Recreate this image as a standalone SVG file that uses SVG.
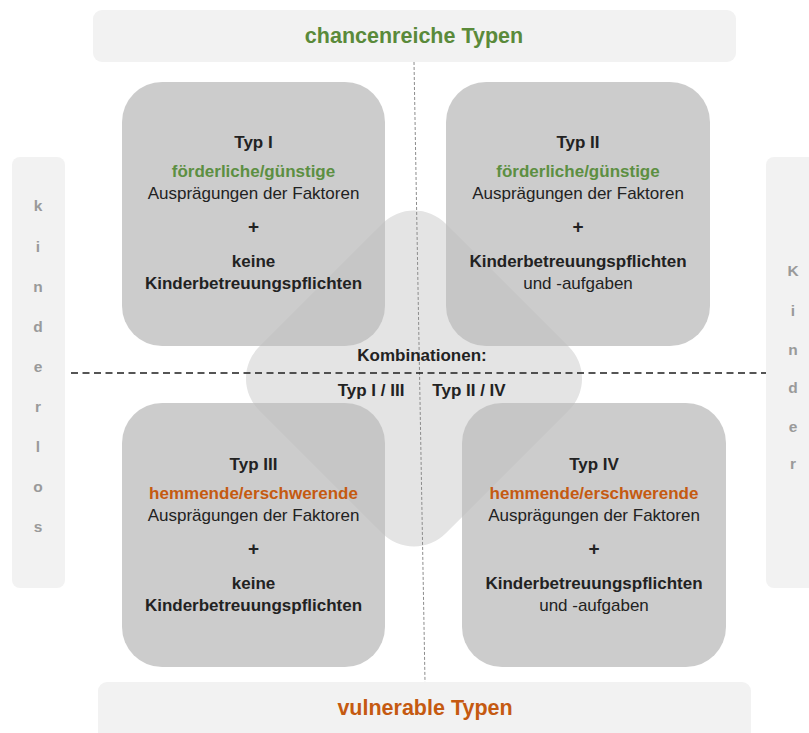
<svg xmlns="http://www.w3.org/2000/svg" width="809" height="733" viewBox="0 0 809 733">
<style>
text{font-family:"Liberation Sans",Arial,sans-serif;text-anchor:middle;fill:#222222}
.b{font-weight:bold}
.t{font-size:17px}
.p{font-size:19px}
.g{fill:#5c8f42;font-weight:bold}
.o{fill:#c55a11;font-weight:bold}
.band{fill:#f2f2f2}
.side{font-size:15.5px;font-weight:bold;fill:#9a9a9a}
.node{fill:#bdbdbd;fill-opacity:.77}
.title{font-size:21.5px;font-weight:bold}
</style>
<rect width="809" height="733" fill="#ffffff"/>
<g id="top-band">
<rect class="band" x="93" y="10" width="643" height="52" rx="9"/>
<text class="title" x="414" y="43" style="fill:#5a8a3a">chancenreiche Typen</text>
</g>
<g id="bottom-band">
<rect class="band" x="98" y="682" width="653" height="60" rx="9"/>
<text class="title" x="425" y="715" style="fill:#c55a11">vulnerable Typen</text>
</g>
<g id="kinderlos">
<rect class="band" x="12" y="157" width="53" height="431" rx="8"/>
<text class="side" x="38" y="211">k</text>
<text class="side" x="38" y="252">i</text>
<text class="side" x="38" y="292">n</text>
<text class="side" x="38" y="332">d</text>
<text class="side" x="38" y="372">e</text>
<text class="side" x="38" y="412">r</text>
<text class="side" x="38" y="452">l</text>
<text class="side" x="38" y="492">o</text>
<text class="side" x="38" y="532">s</text>
</g>
<g id="kinder">
<rect class="band" x="766" y="157" width="60" height="431" rx="8"/>
<text class="side" x="793" y="276">K</text>
<text class="side" x="793" y="316">i</text>
<text class="side" x="793" y="355">n</text>
<text class="side" x="793" y="393">d</text>
<text class="side" x="793" y="432">e</text>
<text class="side" x="793" y="469">r</text>
</g>
<g id="kombinationen">
<rect x="-132" y="-132" width="264" height="264" rx="45" fill="#e4e4e4" transform="translate(414 378.5) rotate(45)"/>
</g>
<g id="connectors">
<line x1="414" y1="62" x2="425" y2="682" stroke="#8c8c8c" stroke-width="1" stroke-dasharray="3 2"/>
<line x1="71" y1="373" x2="766" y2="373" stroke="#1e1e1e" stroke-width="1.6" stroke-dasharray="7 4.5"/>
</g>
<g id="kombi-label" class="b t">
<text x="422" y="361">Kombinationen:</text>
<text x="371" y="396">Typ I / III</text>
<text x="469" y="396">Typ II / IV</text>
</g>
<g id="typ1" class="t">
<rect class="node" x="122" y="82" width="263" height="264" rx="40"/>
<text class="b" x="253.5" y="148">Typ I</text>
<text class="g" x="253.5" y="177">förderliche/günstige</text>
<text x="253.5" y="199">Ausprägungen der Faktoren</text>
<text class="b p" x="253.5" y="233">+</text>
<text class="b" x="253.5" y="267">keine</text>
<text class="b" x="253.5" y="289">Kinderbetreuungspflichten</text>
</g>
<g id="typ2" class="t">
<rect class="node" x="446" y="82" width="264" height="264" rx="40"/>
<text class="b" x="578" y="148">Typ II</text>
<text class="g" x="578" y="177">förderliche/günstige</text>
<text x="578" y="199">Ausprägungen der Faktoren</text>
<text class="b p" x="578" y="233">+</text>
<text class="b" x="578" y="267">Kinderbetreuungspflichten</text>
<text x="578" y="289">und -aufgaben</text>
</g>
<g id="typ3" class="t">
<rect class="node" x="122" y="403" width="263" height="264" rx="40"/>
<text class="b" x="253.5" y="470">Typ III</text>
<text class="o" x="253.5" y="499">hemmende/erschwerende</text>
<text x="253.5" y="521">Ausprägungen der Faktoren</text>
<text class="b p" x="253.5" y="555">+</text>
<text class="b" x="253.5" y="589">keine</text>
<text class="b" x="253.5" y="611">Kinderbetreuungspflichten</text>
</g>
<g id="typ4" class="t">
<rect class="node" x="462" y="403" width="264" height="264" rx="40"/>
<text class="b" x="594" y="470">Typ IV</text>
<text class="o" x="594" y="499">hemmende/erschwerende</text>
<text x="594" y="521">Ausprägungen der Faktoren</text>
<text class="b p" x="594" y="555">+</text>
<text class="b" x="594" y="589">Kinderbetreuungspflichten</text>
<text x="594" y="611">und -aufgaben</text>
</g>
</svg>
